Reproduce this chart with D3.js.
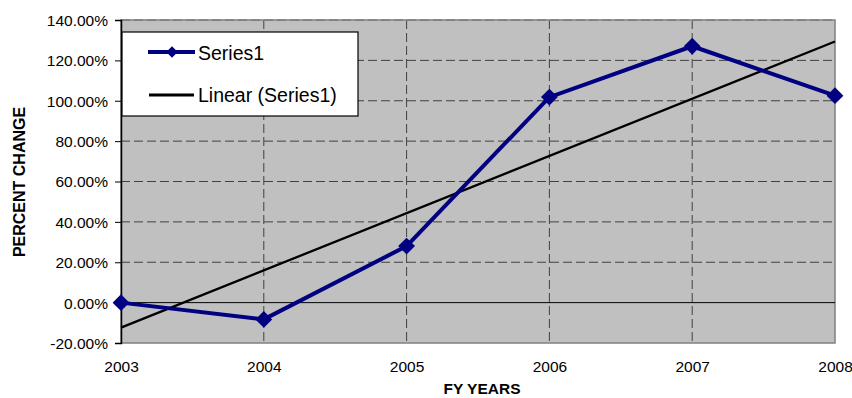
<!DOCTYPE html>
<html>
<head>
<meta charset="utf-8">
<script src="https://cdn.jsdelivr.net/npm/d3@7"></script>
<style>
  body { margin: 0; background: #fff; }
  svg text { font-family: "Liberation Sans", Arial, sans-serif; fill: #000; }
</style>
</head>
<body>
<svg id="chart" width="852" height="398"></svg>
<script>
// chart data
const years = [2003, 2004, 2005, 2006, 2007, 2008];
const series1 = [0.0, -8.3, 28.0, 101.8, 127.0, 102.5];
const yTicks = [-20, 0, 20, 40, 60, 80, 100, 120, 140];

const svg = d3.select("#chart");
const margin = { left: 121, right: 17, top: 20, bottom: 55 };
const width = 852 - margin.left - margin.right;
const height = 398 - margin.top - margin.bottom;

const x = d3.scaleLinear().domain([2003, 2008]).range([0, width]);
const y = d3.scaleLinear().domain([-20, 140]).range([height, 0]);

const g = svg.append("g").attr("transform", `translate(${margin.left},${margin.top})`);

// plot background
g.append("rect")
    .attr("width", width).attr("height", height)
    .attr("fill", "#c0c0c0");

// horizontal gridlines
g.selectAll(".hgrid")
    .data(yTicks.filter(d => d !== 0 && d !== -20))
    .enter().append("line")
    .attr("x1", 0).attr("x2", width)
    .attr("y1", d => y(d)).attr("y2", d => y(d))
    .attr("stroke", "#404040").attr("stroke-width", 1)
    .attr("stroke-dasharray", "9,4");

// vertical gridlines
g.selectAll(".vgrid")
    .data(years.slice(1, -1))
    .enter().append("line")
    .attr("x1", d => x(d)).attr("x2", d => x(d))
    .attr("y1", 0).attr("y2", height)
    .attr("stroke", "#404040").attr("stroke-width", 1)
    .attr("stroke-dasharray", "9,4");

// plot border (grey)
g.append("rect")
    .attr("width", width).attr("height", height)
    .attr("fill", "none").attr("stroke", "#808080").attr("stroke-width", 1.5);

// zero line
g.append("line")
    .attr("x1", 0).attr("x2", width)
    .attr("y1", y(0)).attr("y2", y(0))
    .attr("stroke", "#000").attr("stroke-width", 1);

// y axis
const yAxis = d3.axisLeft(y)
    .tickValues(yTicks)
    .tickSize(6)
    .tickPadding(7)
    .tickFormat(d => d.toFixed(2) + "%");
const ya = g.append("g").call(yAxis);
ya.select(".domain").attr("stroke", "#000").attr("stroke-width", 1.5);
ya.selectAll(".tick line").attr("stroke", "#000");
ya.selectAll("text").style("font-size", "15.5px").attr("dy", "0.35em");

// x axis labels
const xa = g.append("g").attr("transform", `translate(0,${height})`)
    .call(d3.axisBottom(x).tickValues(years).tickSize(0).tickPadding(18).tickFormat(d3.format("d")));
xa.select(".domain").remove();
xa.selectAll("text").style("font-size", "15.5px");

// trend line (least squares)
const n = years.length;
const xs = years.map((d, i) => i);
const mx = d3.mean(xs), my = d3.mean(series1);
const slope = d3.sum(xs.map((d, i) => (d - mx) * (series1[i] - my))) / d3.sum(xs.map(d => (d - mx) * (d - mx)));
const icpt = my - slope * mx;
g.append("line")
    .attr("x1", x(years[0])).attr("y1", y(icpt))
    .attr("x2", x(years[n - 1])).attr("y2", y(icpt + slope * (n - 1)))
    .attr("stroke", "#000").attr("stroke-width", 2.3);

// series line
const line = d3.line().x((d, i) => x(years[i])).y(d => y(d));
g.append("path")
    .datum(series1)
    .attr("d", line)
    .attr("fill", "none")
    .attr("stroke", "#000080")
    .attr("stroke-width", 4);

const diamond = d3.symbol().type(d3.symbolDiamond2).size(180);
g.selectAll(".marker")
    .data(series1)
    .enter().append("path")
    .attr("d", diamond)
    .attr("transform", (d, i) => `translate(${x(years[i])},${y(d)})`)
    .attr("fill", "#000080");

// legend
const lg = svg.append("g").attr("transform", "translate(122,32)");
lg.append("rect")
    .attr("width", 236).attr("height", 84)
    .attr("fill", "#fff").attr("stroke", "#000").attr("stroke-width", 1.2);
lg.append("line")
    .attr("x1", 26).attr("x2", 73).attr("y1", 20).attr("y2", 20)
    .attr("stroke", "#000080").attr("stroke-width", 4);
lg.append("path")
    .attr("d", d3.symbol().type(d3.symbolDiamond2).size(85))
    .attr("transform", "translate(50,20)")
    .attr("fill", "#000080");
lg.append("text").attr("x", 76).attr("y", 21).attr("dy", "0.35em")
    .style("font-size", "19.5px").text("Series1");
lg.append("line")
    .attr("x1", 27).attr("x2", 72).attr("y1", 63).attr("y2", 63)
    .attr("stroke", "#000").attr("stroke-width", 3);
lg.append("text").attr("x", 76).attr("y", 63).attr("dy", "0.35em")
    .style("font-size", "19.5px").text("Linear (Series1)");

// axis titles
svg.append("text")
    .attr("transform", "translate(25,182) rotate(-90)")
    .attr("text-anchor", "middle")
    .style("font-size", "16px").style("font-weight", "bold")
    .text("PERCENT CHANGE");
svg.append("text")
    .attr("x", 482).attr("y", 394)
    .attr("text-anchor", "middle")
    .style("font-size", "15.5px").style("font-weight", "bold")
    .text("FY YEARS");
</script>
</body>
</html>
